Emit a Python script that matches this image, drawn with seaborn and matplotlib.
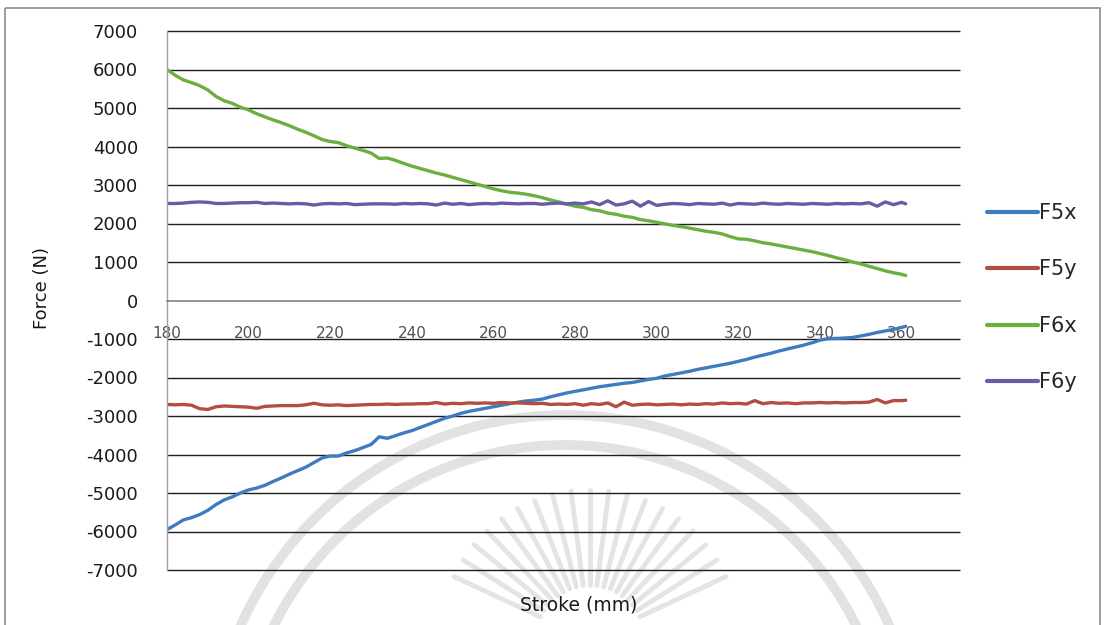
import numpy as np
import pandas as pd
import matplotlib
matplotlib.use("Agg")
import matplotlib.pyplot as plt
from matplotlib.patches import Arc, Rectangle
import seaborn as sns

# Stroke positions (mm)
stroke = list(range(180, 362, 2)) + [361]

# Measured forces (N)
f6x = [6000, 5850, 5730, 5660, 5580, 5470, 5300, 5190, 5120, 5020,
       4950, 4850, 4770, 4690, 4620, 4540, 4450, 4370, 4280, 4180,
       4130, 4100, 4020, 3960, 3900, 3830, 3690, 3700, 3640, 3560,
       3490, 3430, 3370, 3310, 3260, 3200, 3140, 3080, 3020, 2960,
       2900, 2850, 2810, 2790, 2760, 2720, 2670, 2610, 2560, 2500,
       2450, 2420, 2360, 2330, 2270, 2240, 2190, 2160, 2100, 2070,
       2030, 1990, 1950, 1920, 1880, 1840, 1800, 1770, 1730, 1660,
       1600, 1590, 1550, 1500, 1470, 1430, 1390, 1350, 1310, 1270,
       1220, 1170, 1110, 1060, 1000, 950, 890, 830, 770, 720,
       680, 650]

f5x = [-5950, -5830, -5700, -5640, -5560, -5450, -5300, -5180, -5100, -5000,
       -4920, -4870, -4800, -4700, -4610, -4510, -4420, -4330, -4210, -4090,
       -4040, -4040, -3960, -3900, -3820, -3740, -3540, -3580, -3510, -3440,
       -3380, -3300, -3220, -3140, -3060, -3000, -2930, -2880, -2840, -2800,
       -2760, -2720, -2680, -2640, -2610, -2590, -2560, -2500, -2450, -2400,
       -2360, -2320, -2280, -2240, -2210, -2180, -2150, -2130, -2090, -2050,
       -2020, -1960, -1920, -1880, -1840, -1790, -1750, -1710, -1670, -1630,
       -1580, -1530, -1470, -1420, -1370, -1310, -1260, -1210, -1160, -1100,
       -1030, -990, -985, -975, -960, -920, -880, -830, -790, -750,
       -700, -670]

f6y = [2520, 2520, 2530, 2550, 2560, 2550, 2520, 2520, 2530, 2540,
       2540, 2550, 2520, 2530, 2520, 2510, 2520, 2510, 2480, 2510,
       2520, 2510, 2520, 2490, 2500, 2510, 2510, 2510, 2500, 2520,
       2510, 2520, 2510, 2480, 2530, 2500, 2520, 2490, 2510, 2520,
       2510, 2530, 2520, 2510, 2520, 2520, 2500, 2520, 2530, 2510,
       2530, 2510, 2560, 2490, 2590, 2480, 2510, 2580, 2450, 2570,
       2470, 2500, 2520, 2510, 2490, 2520, 2510, 2500, 2530, 2480,
       2520, 2510, 2500, 2530, 2510, 2500, 2520, 2510, 2500, 2520,
       2510, 2500, 2520, 2510, 2520, 2510, 2540, 2450, 2560, 2490,
       2550, 2510]

f5y = [-2700, -2710, -2700, -2720, -2810, -2830, -2760, -2740, -2750, -2760,
       -2770, -2800, -2750, -2740, -2730, -2730, -2730, -2710, -2670, -2710,
       -2720, -2710, -2730, -2720, -2710, -2700, -2700, -2690, -2700, -2690,
       -2690, -2680, -2680, -2650, -2690, -2670, -2680, -2660, -2670, -2660,
       -2670, -2650, -2660, -2660, -2670, -2680, -2670, -2700, -2690, -2700,
       -2680, -2720, -2680, -2700, -2660, -2760, -2640, -2720, -2700, -2690,
       -2710, -2700, -2690, -2710, -2690, -2700, -2680, -2690, -2660, -2680,
       -2670, -2690, -2600, -2680, -2650, -2670, -2660, -2680, -2660, -2660,
       -2650, -2660, -2650, -2660, -2650, -2650, -2640, -2570, -2660, -2600,
       -2600, -2590]

series_names = ["F5x", "F5y", "F6x", "F6y"]
series_colors = ["#3F7BC1", "#B24D42", "#6BAF3F", "#6A5BA6"]
y_ticks = list(range(-7000, 7001, 1000))
x_ticks = list(range(180, 361, 20))

df = pd.DataFrame({
    "Stroke (mm)": stroke * 4,
    "Force (N)": f5x + f5y + f6x + f6y,
    "Series": sum([[n] * len(stroke) for n in series_names], []),
})

sns.set_style("white")
plt.rcParams["font.family"] = ["DejaVu Sans"]
plt.rcParams["axes.unicode_minus"] = False

W, H, DPI = 1108, 625, 100
fig = plt.figure(figsize=(W / DPI, H / DPI), dpi=DPI)

# Background layer in pixel coordinates: frame and faint seal watermark
bg = fig.add_axes([0, 0, 1, 1], zorder=0)
bg.set_xlim(0, W)
bg.set_ylim(H, 0)
bg.axis("off")
bg.add_patch(Rectangle((5, 8), 1095, 640, fill=False, ec="#8c8c8c", lw=1.2))
seal_c = (565, 770)
for r in (355, 325):
    bg.add_patch(Arc(seal_c, 2 * r, 2 * r, theta1=180, theta2=360,
                     color="#e2e2e2", lw=7))
ray_c = np.array([590.0, 640.0])
for ang in np.linspace(25, 155, 19):
    t = np.deg2rad(ang)
    d = np.array([np.cos(t), -np.sin(t)])
    p0, p1 = ray_c + 55 * d, ray_c + 150 * d
    bg.plot([p0[0], p1[0]], [p0[1], p1[1]], color="#e4e4e4", lw=3.5,
            solid_capstyle="round")

ax = fig.add_axes([167 / W, 1 - 570 / H, (960 - 167) / W, (570 - 31) / H], zorder=1)
ax.patch.set_alpha(0)

# Horizontal gridlines (the zero line is the x axis itself)
ax.hlines([v for v in y_ticks if v != 0], 180, 374.3, colors="#1e1e1e",
          lw=1.0, clip_on=False, zorder=0.5)

sns.lineplot(data=df, x="Stroke (mm)", y="Force (N)", hue="Series",
             hue_order=series_names, palette=dict(zip(series_names, series_colors)),
             lw=2.4, ax=ax, legend=True)

ax.set_xlim(180, 374.3)
ax.set_ylim(-7000, 7000)
ax.set_yticks(y_ticks)
ax.set_xticks(x_ticks)
ax.grid(False)

for s in ("top", "right"):
    ax.spines[s].set_visible(False)
ax.spines["left"].set_color("#a0a0a0")
ax.spines["left"].set_linewidth(1.0)
ax.spines["bottom"].set_position(("data", 0))
ax.spines["bottom"].set_color("#8a8a8a")
ax.spines["bottom"].set_linewidth(1.3)

ax.tick_params(axis="y", length=0, pad=21, labelsize=13, labelcolor="#1a1a1a")
ax.tick_params(axis="x", direction="inout", length=10, width=1, color="#8a8a8a",
               pad=13, labelsize=11, labelcolor="#505050")

ax.set_xlabel("")
ax.set_ylabel("")
fig.text(42 / W, 1 - 288 / H, "Force (N)", rotation=90, ha="center", va="center",
         fontsize=13, color="#1a1a1a")
fig.text(579 / W, 1 - 605 / H, "Stroke (mm)", ha="center", va="center",
         fontsize=13.5, color="#1a1a1a")

leg = ax.legend(loc="upper left", bbox_to_anchor=(987 / W, 1 - 203 / H),
                bbox_transform=fig.transFigure, frameon=False, fontsize=15,
                handlelength=2.45, handletextpad=0.05, labelspacing=1.75,
                borderaxespad=0, borderpad=0)
for line in leg.get_lines():
    line.set_linewidth(3)

fig.savefig("out.png", dpi=DPI)
